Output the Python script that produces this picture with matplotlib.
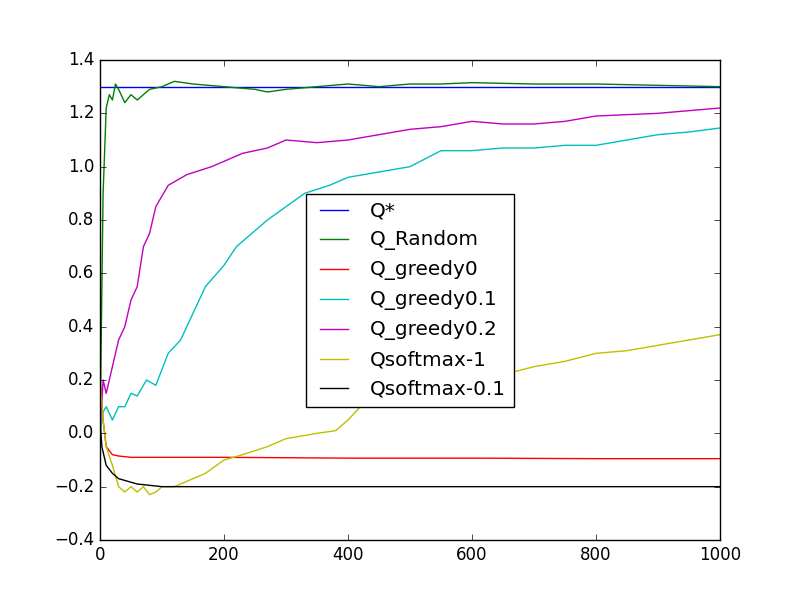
import matplotlib
matplotlib.use("Agg")
import matplotlib.pyplot as plt

plt.style.use("classic")

# values at sample steps
x_rand = [0, 5, 10, 15, 20, 25, 30, 40, 50, 60, 80, 100, 120, 150, 200, 250, 270, 300, 350, 400, 450, 500, 550, 600, 700, 800, 900, 1000]
y_rand = [0.0, 0.9, 1.22, 1.27, 1.25, 1.31, 1.29, 1.24, 1.27, 1.25, 1.29, 1.30, 1.32, 1.31, 1.30, 1.29, 1.28, 1.29, 1.30, 1.31, 1.30, 1.31, 1.31, 1.315, 1.31, 1.31, 1.305, 1.30]

x_g0 = [0, 5, 10, 20, 30, 50, 100, 200, 400, 600, 800, 1000]
y_g0 = [0.2, 0.05, -0.05, -0.08, -0.085, -0.09, -0.09, -0.09, -0.093, -0.093, -0.095, -0.095]

x_g01 = [0, 5, 10, 20, 30, 40, 50, 60, 75, 90, 110, 130, 150, 170, 200, 220, 250, 270, 300, 330, 370, 400, 450, 500, 550, 600, 650, 700, 750, 800, 850, 900, 950, 1000]
y_g01 = [0.0, 0.08, 0.1, 0.05, 0.1, 0.1, 0.15, 0.14, 0.2, 0.18, 0.3, 0.35, 0.45, 0.55, 0.63, 0.7, 0.76, 0.8, 0.85, 0.9, 0.93, 0.96, 0.98, 1.0, 1.06, 1.06, 1.07, 1.07, 1.08, 1.08, 1.1, 1.12, 1.13, 1.145]

x_g02 = [0, 5, 10, 20, 30, 40, 50, 60, 70, 80, 90, 110, 140, 180, 230, 270, 300, 350, 400, 450, 500, 550, 600, 650, 700, 750, 800, 900, 1000]
y_g02 = [0.0, 0.2, 0.15, 0.25, 0.35, 0.4, 0.5, 0.55, 0.7, 0.75, 0.85, 0.93, 0.97, 1.0, 1.05, 1.07, 1.1, 1.09, 1.1, 1.12, 1.14, 1.15, 1.17, 1.16, 1.16, 1.17, 1.19, 1.2, 1.22]

x_s1 = [0, 5, 10, 20, 30, 40, 50, 60, 70, 80, 90, 100, 120, 140, 170, 200, 230, 270, 300, 350, 380, 400, 420, 450, 500, 550, 600, 650, 700, 750, 800, 850, 900, 950, 1000]
y_s1 = [0.2, 0.05, -0.05, -0.12, -0.2, -0.22, -0.2, -0.22, -0.2, -0.23, -0.22, -0.2, -0.2, -0.18, -0.15, -0.1, -0.08, -0.05, -0.02, 0.0, 0.01, 0.05, 0.1, 0.12, 0.15, 0.17, 0.2, 0.22, 0.25, 0.27, 0.3, 0.31, 0.33, 0.35, 0.37]

x_s01 = [0, 3, 10, 20, 30, 45, 60, 80, 100, 150, 200, 300, 500, 700, 1000]
y_s01 = [0.05, -0.05, -0.12, -0.15, -0.17, -0.18, -0.19, -0.195, -0.2, -0.2, -0.2, -0.2, -0.2, -0.2, -0.2]

q_star = 1.3

fig = plt.figure(figsize=(8, 6), dpi=100)
ax = fig.add_subplot(111)
ax.plot([0, 1000], [q_star, q_star], color="b", label="Q*")
ax.plot(x_rand, y_rand, color="g", label="Q_Random")
ax.plot(x_g0, y_g0, color="r", label="Q_greedy0")
ax.plot(x_g01, y_g01, color="c", label="Q_greedy0.1")
ax.plot(x_g02, y_g02, color="m", label="Q_greedy0.2")
ax.plot(x_s1, y_s1, color="y", label="Qsoftmax-1")
ax.plot(x_s01, y_s01, color="k", label="Qsoftmax-0.1")
ax.set_xlim(0, 1000)
ax.set_ylim(-0.4, 1.4)
ax.legend(loc="center")
plt.savefig("out.png")
